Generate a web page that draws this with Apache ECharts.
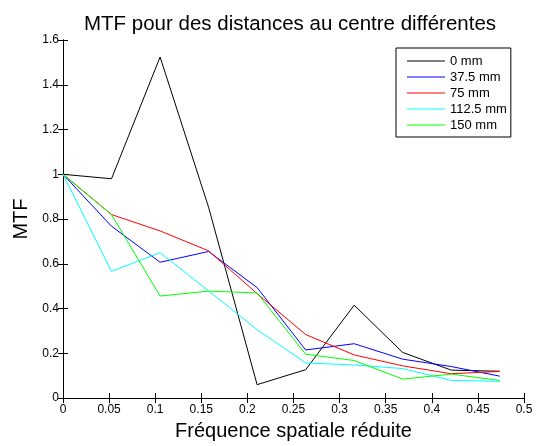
<!DOCTYPE html>
<html>
<head>
<meta charset="utf-8">
<script src="https://cdn.jsdelivr.net/npm/echarts@6/dist/echarts.min.js"></script>
<style>
    html, body { margin: 0; padding: 0; background: #ffffff; }
    #chartbox { width: 536px; height: 446px; }
</style>
</head>
<body>
<div id="chartbox"></div>
<script>
// frequence spatiale reduite : k/19
var xValues = [0, 0.0526, 0.1053, 0.1579, 0.2105, 0.2632, 0.3158, 0.3684, 0.4211, 0.4737];

var mtf0 = [1.0, 0.98, 1.524, 0.853, 0.06, 0.127, 0.415, 0.204, 0.125, 0.12];
var mtf375 = [1.0, 0.768, 0.607, 0.655, 0.494, 0.215, 0.243, 0.174, 0.141, 0.098];
var mtf75 = [1.0, 0.82, 0.747, 0.658, 0.467, 0.284, 0.193, 0.144, 0.109, 0.119];
var mtf1125 = [1.0, 0.566, 0.65, 0.479, 0.306, 0.157, 0.148, 0.132, 0.079, 0.075];
var mtf150 = [1.0, 0.82, 0.456, 0.478, 0.47, 0.196, 0.168, 0.085, 0.107, 0.079];

var seriesNames = ["0 mm", "37.5 mm", "75 mm", "112.5 mm", "150 mm"];
var seriesColors = ["#000000", "#0000ff", "#ff0000", "#00ffff", "#00ff00"];

var xTickLabels = ["0", "0.05", "0.1", "0.15", "0.2", "0.25", "0.3", "0.35", "0.4", "0.45", "0.5"];
var yTickLabels = ["0", "0.2", "0.4", "0.6", "0.8", "1", "1.2", "1.4", "1.6"];

var font = "Liberation Sans, Arial, Helvetica, sans-serif";

var toPairs = function (ys) {
    return ys.map(function (y, i) { return [xValues[i], y]; });
};

var allValues = [mtf0, mtf375, mtf75, mtf1125, mtf150];

var myChart = echarts.init(document.getElementById("chartbox"));

var axisCommon = {
    axisLine: { show: true, lineStyle: { color: "#000000", width: 1 } },
    axisTick: { show: true, inside: true, length: 5, lineStyle: { color: "#000000" } },
    splitLine: { show: false },
};

var option = {
    animation: false,
    backgroundColor: "#ffffff",
    title: {
        text: "MTF pour des distances au centre différentes",
        left: 285,
        top: 9,
        textAlign: "center",
        textStyle: { color: "#000000", fontSize: 20.5, fontWeight: "normal", fontFamily: font },
    },
    legend: {
        orient: "vertical",
        left: 396,
        top: 48,
        padding: [6, 4, 5, 11],
        icon: "rect",
        itemWidth: 38,
        itemHeight: 1,
        itemGap: 2,
        borderColor: "#000000",
        borderWidth: 1,
        backgroundColor: "#ffffff",
        textStyle: { color: "#000000", fontSize: 13, fontFamily: font, lineHeight: 14 },
        data: seriesNames,
    },
    grid: {
        left: 63,
        right: 12,
        top: 40,
        bottom: 42,
        containLabel: false,
    },
    xAxis: [
        Object.assign({}, axisCommon, {
            type: "value",
            position: "bottom",
            min: 0,
            max: 0.5,
            interval: 0.05,
            name: "Fréquence spatiale réduite",
            nameLocation: "middle",
            nameGap: 21,
            nameTextStyle: { color: "#000000", fontSize: 20, fontFamily: font },
            axisLabel: {
                color: "#000000",
                fontSize: 12,
                fontFamily: font,
                margin: 6,
                formatter: function (v, i) { return xTickLabels[i]; },
            },
        }),
        Object.assign({}, axisCommon, {
            type: "value",
            position: "top",
            min: 0,
            max: 0.5,
            interval: 0.05,
            axisLabel: { show: false },
        }),
    ],
    yAxis: [
        Object.assign({}, axisCommon, {
            type: "value",
            position: "left",
            min: 0,
            max: 1.6,
            interval: 0.2,
            name: "MTF",
            nameLocation: "middle",
            nameGap: 31,
            nameTextStyle: { color: "#000000", fontSize: 20, fontFamily: font },
            axisLabel: {
                color: "#000000",
                fontSize: 12,
                fontFamily: font,
                margin: 4,
                formatter: function (v, i) { return yTickLabels[i]; },
            },
        }),
        Object.assign({}, axisCommon, {
            type: "value",
            position: "right",
            min: 0,
            max: 1.6,
            interval: 0.2,
            axisLabel: { show: false },
        }),
    ],
    series: seriesNames.map(function (name, i) {
        return {
            name: name,
            type: "line",
            symbol: "none",
            lineStyle: { width: 1, color: seriesColors[i] },
            itemStyle: { color: seriesColors[i] },
            data: toPairs(allValues[i]),
        };
    }),
};

myChart.setOption(option);
</script>
</body>
</html>
